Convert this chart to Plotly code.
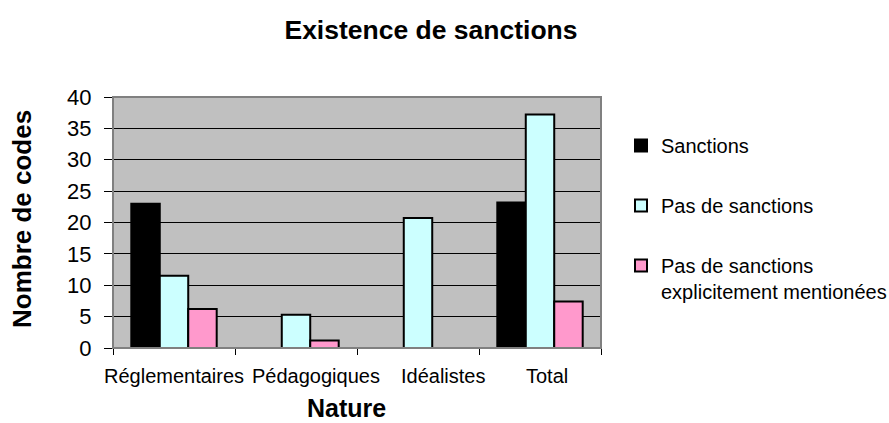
import plotly.graph_objects as go

# Categories of codes and counts per sanction type
categories = ["Réglementaires", "Pédagogiques", "Idéalistes", "Total"]
sanctions = [23.0, 0, 0, 23.2]
pas_de_sanctions = [11.5, 5.3, 20.7, 37.2]
non_mentionnees = [6.2, 1.2, 0, 7.4]

series_names = [
    "Sanctions",
    "Pas de sanctions",
    "Pas de sanctions<br>explicitement mentionées",
]
y_ticks = [0, 5, 10, 15, 20, 25, 30, 35, 40]

colors = ["#000000", "#CCFFFF", "#FF99CC"]
font_family = "Liberation Sans, Arial, sans-serif"

# plot area in pixels
W, H = 889, 423
L, R, T, B = 113, 601, 97, 348


def px_to_paper(px, py):
    return (px - L) / (R - L), (B - py) / (B - T)


fig = go.Figure()
for i, (name, vals) in enumerate(zip(series_names, [sanctions, pas_de_sanctions, non_mentionnees])):
    fig.add_trace(go.Bar(
        x=categories,
        y=vals,
        name=name,
        legendgroup=f"g{i}",
        marker=dict(color=colors[i], line=dict(color="#000000", width=2)),
    ))

# category labels under the axis, offset horizontally like the original layout
label_shift = [0, 20, 25, 7]
annotations = []
for cat, dx in zip(categories, label_shift):
    annotations.append(dict(
        x=cat, y=0, xref="x", yref="y",
        text=cat, showarrow=False,
        xanchor="center", yanchor="middle",
        xshift=dx, yshift=-28,
        font=dict(size=20, color="#000000", family=font_family),
    ))

# axis titles
nx, ny = px_to_paper(346, 408)
annotations.append(dict(
    x=nx, y=ny, xref="paper", yref="paper",
    text="<b>Nature</b>", showarrow=False,
    xanchor="center", yanchor="middle",
    font=dict(size=25, color="#000000", family=font_family),
))
tx, ty = px_to_paper(22, 219)
annotations.append(dict(
    x=tx, y=ty, xref="paper", yref="paper",
    text="<b>Nombre de codes</b>", showarrow=False, textangle=-90,
    xanchor="center", yanchor="middle",
    font=dict(size=26, color="#000000", family=font_family),
))

lx, ly = px_to_paper(621, 126)

fig.update_layout(
    width=W,
    height=H,
    margin=dict(l=L, r=W - R, t=T, b=H - B, autoexpand=False),
    paper_bgcolor="#FFFFFF",
    plot_bgcolor="#C0C0C0",
    font=dict(family=font_family, size=20, color="#000000"),
    title=dict(
        text="<b>Existence de sanctions</b>",
        x=431 / W, xanchor="center", xref="container",
        y=1 - 30 / H, yanchor="middle", yref="container",
        font=dict(size=26.5, color="#000000", family=font_family),
    ),
    barmode="group",
    bargap=0.3,
    bargroupgap=0,
    showlegend=True,
    legend=dict(
        x=lx, xanchor="left",
        y=ly, yanchor="top",
        font=dict(size=20, color="#000000", family=font_family),
        tracegroupgap=31,
        valign="top",
        bgcolor="rgba(0,0,0,0)",
    ),
    annotations=annotations,
    shapes=[dict(
        type="rect", xref="paper", yref="paper",
        x0=0, x1=1, y0=0, y1=1,
        line=dict(color="#808080", width=2),
        layer="above",
    )],
)

fig.update_xaxes(
    type="category",
    range=[-0.5, 3.5],
    showticklabels=False,
    showline=True, linecolor="#000000", linewidth=1,
    ticks="outside", tickson="boundaries", ticklen=6, tickcolor="#000000",
    showgrid=False,
)
fig.update_yaxes(
    range=[0, 40],
    tickvals=y_ticks,
    ticks="outside", ticklen=8, tickcolor="#000000",
    ticklabelstandoff=8,
    tickfont=dict(size=22, color="#000000", family=font_family),
    showgrid=True, gridcolor="#000000", gridwidth=1,
    zeroline=False,
    showline=True, linecolor="#000000", linewidth=1,
)

fig.write_html("out.html")
